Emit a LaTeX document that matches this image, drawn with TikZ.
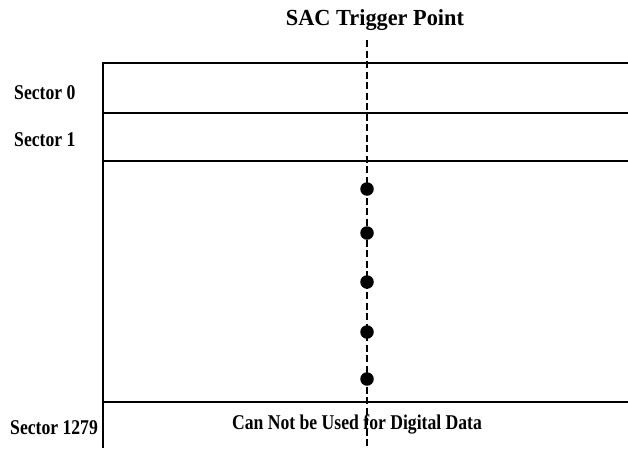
\documentclass[tikz,border=0pt]{standalone}
\usepackage{fontspec}
\setmainfont{Liberation Serif}[FakeStretch=0.84]
\newfontfamily\titlefont{Liberation Serif}[FakeStretch=0.97]
\usetikzlibrary{positioning}

\begin{document}
\begin{tikzpicture}[x=1pt,y=-1pt]
\path[use as bounding box] (0,0) rectangle (628,448);
\tikzset{
  sector line/.style={line width=1.7pt},
  trigger line/.style={line width=1.6pt,dash pattern=on 7pt off 3.5pt},
  sector label/.style={anchor=west,inner sep=0pt,font=\bfseries\fontsize{21}{24}\selectfont},
  title label/.style={inner sep=0pt,font=\titlefont\bfseries\fontsize{23}{26}\selectfont},
  dot/.style={circle,fill=black,inner sep=0pt,minimum size=13.5pt}
}
% sector boundaries
\draw[sector line] (628,63)--(103,63)--(103,448);
\draw[sector line] (103,113)--(628,113);
\draw[sector line] (103,161)--(628,161);
\draw[sector line] (103,402)--(628,402);

\node[title label] (title) at (375,20) {SAC Trigger Point};
\coordinate (trigtop) at (367,40);
\coordinate (trigbot) at (367,448);
\draw[trigger line] (trigtop)--(trigbot);

\node[dot] (d1) at (367,189) {};
\node[dot] (d2) at (367,233) {};
\node[dot] (d3) at (367,282) {};
\node[dot] (d4) at (367,332) {};
\node[dot] (d5) at (367,379) {};

\node[sector label] (s0) at (14,93) {Sector 0};
\node[sector label] (s1) at (14,140) {Sector 1};
\node[sector label] (slast) at (10,428) {Sector 1279};
\node[sector label,anchor=center] (nodata) at (357,424) {Can Not be Used for Digital Data};
\end{tikzpicture}
\end{document}
